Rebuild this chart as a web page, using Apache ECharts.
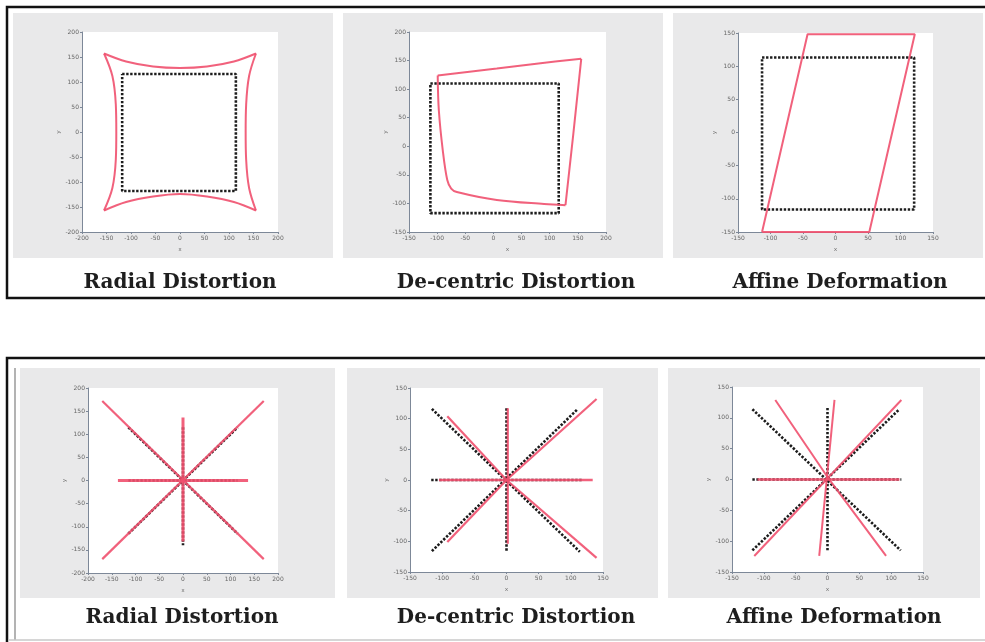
<!DOCTYPE html>
<html>
<head>
<meta charset="utf-8">
<script src="https://cdn.jsdelivr.net/npm/echarts/dist/echarts.min.js"></script>
<style>
html,body{margin:0;padding:0;background:#fff;}
#chart{width:985px;height:642px;}
</style>
</head>
<body>
<div id="chart"></div>
<script>
// ---------- titles ----------
const titles = ['Radial Distortion', 'De-centric Distortion', 'Affine Deformation',
                'Radial Distortion', 'De-centric Distortion', 'Affine Deformation'];

// ---------- axis ranges / tick labels ----------
const xRanges = [[-200, 200], [-150, 200], [-150, 150], [-200, 200], [-150, 150], [-150, 150]];
const yRanges = [[-200, 200], [-150, 200], [-150, 150], [-200, 200], [-150, 150], [-150, 150]];
const tickStep = 50;

// ---------- panel 1: radial distortion of a square ----------
const p1Square = [[-118, 116], [114, 116], [114, -118], [-118, -118], [-118, 116]];
const p1Top = [[-155, 157], [-110, 141], [-55, 131], [0, 128], [55, 131], [110, 141], [155, 157]];
const p1Bottom = [[-155, -157], [-110, -140], [-55, -129], [0, -124], [55, -129], [110, -140], [155, -157]];
const p1Left = [[-155, 157], [-138, 112], [-131, 55], [-130, 0], [-131, -55], [-138, -112], [-155, -157]];
const p1Right = [[155, 157], [141, 112], [135, 55], [134, 0], [135, -55], [141, -112], [155, -157]];

// ---------- panel 2: de-centric distortion of a square ----------
const p2Square = [[-112, 110], [116, 110], [116, -117], [-112, -117], [-112, 110]];
const p2Top = [[-99, 124], [6, 136], [80, 145], [156, 153]];
const p2Right = [[156, 153], [142, 22], [128, -103]];
const p2BottomLeft = [[128, -103], [90, -101], [6, -94], [-65, -80], [-75, -74], [-82, -59], [-90, -7], [-97, 63], [-99, 124]];

// ---------- panel 3: affine deformation of a square ----------
const p3Square = [[-113, 113], [121, 113], [121, -116], [-113, -116], [-113, 113]];
const p3Red = [[-113, -150], [52, -150], [122, 148], [-43, 148], [-113, -150]];

// ---------- panel 4: radial distortion of lines ----------
const p4BlackH = [[-115, 0], [115, 0]];
const p4BlackV = [[0, 115], [0, -140]];
const p4BlackD1 = [[-115, 115], [115, -115]];
const p4BlackD2 = [[-115, -115], [115, 115]];
const p4RedD1 = [[-170, 172], [170, -170]];
const p4RedD2 = [[-170, -170], [170, 172]];
const p4RedH = [[-137, 0], [137, 0]];
const p4RedV = [[0, 136], [0, -132]];

// ---------- panel 5: de-centric distortion of lines ----------
const p5BlackH = [[-117, 0], [117, 0]];
const p5BlackV = [[0, 117], [0, -117]];
const p5BlackD1 = [[-116, 116], [114, -117]];
const p5BlackD2 = [[-116, -116], [111, 116]];
const p5RedH = [[-105, 0], [134, 0]];
const p5RedV = [[2, 117], [2, -104]];
const p5RedTR = [[0, 0], [140, 132]];
const p5RedTL = [[-92, 104], [0, 0]];
const p5RedBL = [[-92, -101], [0, 0]];
const p5RedBR = [[0, 0], [140, -127]];

// ---------- panel 6: affine deformation of lines ----------
const p6BlackH = [[-118, 0], [116, 0]];
const p6BlackV = [[0, 116], [0, -115]];
const p6BlackD1 = [[-118, 114], [115, -115]];
const p6BlackD2 = [[-118, -115], [113, 114]];
const p6RedH = [[-110, 0], [113, 0]];
const p6RedV = [[11, 129], [-13, -124]];
const p6RedTR = [[-115, -124], [116, 129]];
const p6RedTL = [[-82, 129], [0, 4], [92, -124]];

// ---------- layout (pixels) ----------
const grids = [
  {left: 82, top: 32, width: 196, height: 200},
  {left: 409, top: 32, width: 197, height: 200},
  {left: 738, top: 33, width: 195, height: 199},
  {left: 88, top: 388, width: 190, height: 185},
  {left: 410, top: 388, width: 193, height: 184},
  {left: 732, top: 387, width: 191, height: 185}
];
const greyBoxes = [
  [13, 13, 320, 245], [343, 13, 320, 245], [673, 13, 310, 245],
  [20, 368, 315, 230], [347, 368, 311, 230], [668, 368, 312, 230]
];
const titlePos = [[180, 283], [516, 283], [840, 283], [182, 618], [516, 618], [834, 618]];

const RED = '#f0506e';
const BLACK = '#1c1c1c';

function blackLine(idx, data) {
  return {type: 'line', xAxisIndex: idx, yAxisIndex: idx, data: data, showSymbol: false,
    silent: true, z: 2, lineStyle: {color: BLACK, width: 2.6, type: [2.4, 1.6]}};
}
function redLine(idx, data, smooth, w) {
  return {type: 'line', xAxisIndex: idx, yAxisIndex: idx, data: data, showSymbol: false,
    smooth: smooth ? 0.35 : false, silent: true, z: 3,
    lineStyle: {color: RED, width: w || 2, opacity: 0.9}};
}

const xAxes = [], yAxes = [], gridOpts = [];
for (let i = 0; i < 6; i++) {
  gridOpts.push(Object.assign({show: true, backgroundColor: '#ffffff', borderWidth: 0, containLabel: false}, grids[i]));
  const common = {
    type: 'value', gridIndex: i, interval: tickStep,
    axisLine: {show: true, onZero: false, lineStyle: {color: '#7d8898', width: 1}},
    axisTick: {show: true, length: 2, lineStyle: {color: '#7d8898'}},
    axisLabel: {show: true, fontSize: 6, color: '#666', margin: 3, showMinLabel: true, showMaxLabel: true,
      fontFamily: 'DejaVu Sans'},
    splitLine: {show: false},
    nameLocation: 'middle',
    nameTextStyle: {fontSize: 6, color: '#666'}
  };
  xAxes.push(Object.assign({}, common, {min: xRanges[i][0], max: xRanges[i][1], position: 'bottom', name: 'x', nameGap: 14}));
  yAxes.push(Object.assign({}, common, {min: yRanges[i][0], max: yRanges[i][1], position: 'left', name: 'y', nameGap: 20}));
}

const series = [
  blackLine(0, p1Square), redLine(0, p1Top, true), redLine(0, p1Bottom, true), redLine(0, p1Left, true), redLine(0, p1Right, true),
  blackLine(1, p2Square), redLine(1, p2Top, true), redLine(1, p2Right, false), redLine(1, p2BottomLeft, true),
  blackLine(2, p3Square), redLine(2, p3Red, false),
  blackLine(3, p4BlackH), blackLine(3, p4BlackV), blackLine(3, p4BlackD1), blackLine(3, p4BlackD2),
  redLine(3, p4RedD1, false, 2.2), redLine(3, p4RedD2, false, 2.2), redLine(3, p4RedH, false, 3), redLine(3, p4RedV, false, 3),
  blackLine(4, p5BlackH), blackLine(4, p5BlackV), blackLine(4, p5BlackD1), blackLine(4, p5BlackD2),
  redLine(4, p5RedH, false, 2.6), redLine(4, p5RedV, false, 2.2), redLine(4, p5RedTR, false, 2.2), redLine(4, p5RedTL, false, 2.2), redLine(4, p5RedBL, false, 2.2), redLine(4, p5RedBR, false, 2.2),
  blackLine(5, p6BlackH), blackLine(5, p6BlackV), blackLine(5, p6BlackD1), blackLine(5, p6BlackD2),
  redLine(5, p6RedH, false, 2.6), redLine(5, p6RedV, false, 2), redLine(5, p6RedTR, false, 2), redLine(5, p6RedTL, false, 2)
];

const graphics = [];
greyBoxes.forEach(b => graphics.push({type: 'rect', z: -100, silent: true,
  shape: {x: b[0], y: b[1], width: b[2], height: b[3]}, style: {fill: '#e9e9ea'}}));
titles.forEach((t, i) => graphics.push({type: 'text', z: 10, silent: true,
  x: titlePos[i][0], y: titlePos[i][1],
  style: {text: t, fill: '#1e1e1e', font: 'bold 20px "DejaVu Serif"', textAlign: 'center', textVerticalAlign: 'middle'}}));
// frames
graphics.push({type: 'rect', z: 10, silent: true, shape: {x: 7, y: 7, width: 1000, height: 291},
  style: {fill: 'none', stroke: '#111', lineWidth: 2.5}});
graphics.push({type: 'rect', z: 10, silent: true, shape: {x: 7, y: 358, width: 1000, height: 320},
  style: {fill: 'none', stroke: '#111', lineWidth: 2.5}});
graphics.push({type: 'line', z: 10, silent: true, shape: {x1: 15, y1: 368, x2: 15, y2: 640},
  style: {stroke: '#9a9a9a', lineWidth: 1.5}});
graphics.push({type: 'line', z: 10, silent: true, shape: {x1: 8, y1: 640, x2: 985, y2: 640},
  style: {stroke: '#c8c8c8', lineWidth: 1.5}});

const chart = echarts.init(document.getElementById('chart'), null, {renderer: 'canvas'});
chart.setOption({
  animation: false,
  backgroundColor: '#ffffff',
  grid: gridOpts,
  xAxis: xAxes,
  yAxis: yAxes,
  series: series,
  graphic: {elements: graphics}
});
</script>
</body>
</html>
